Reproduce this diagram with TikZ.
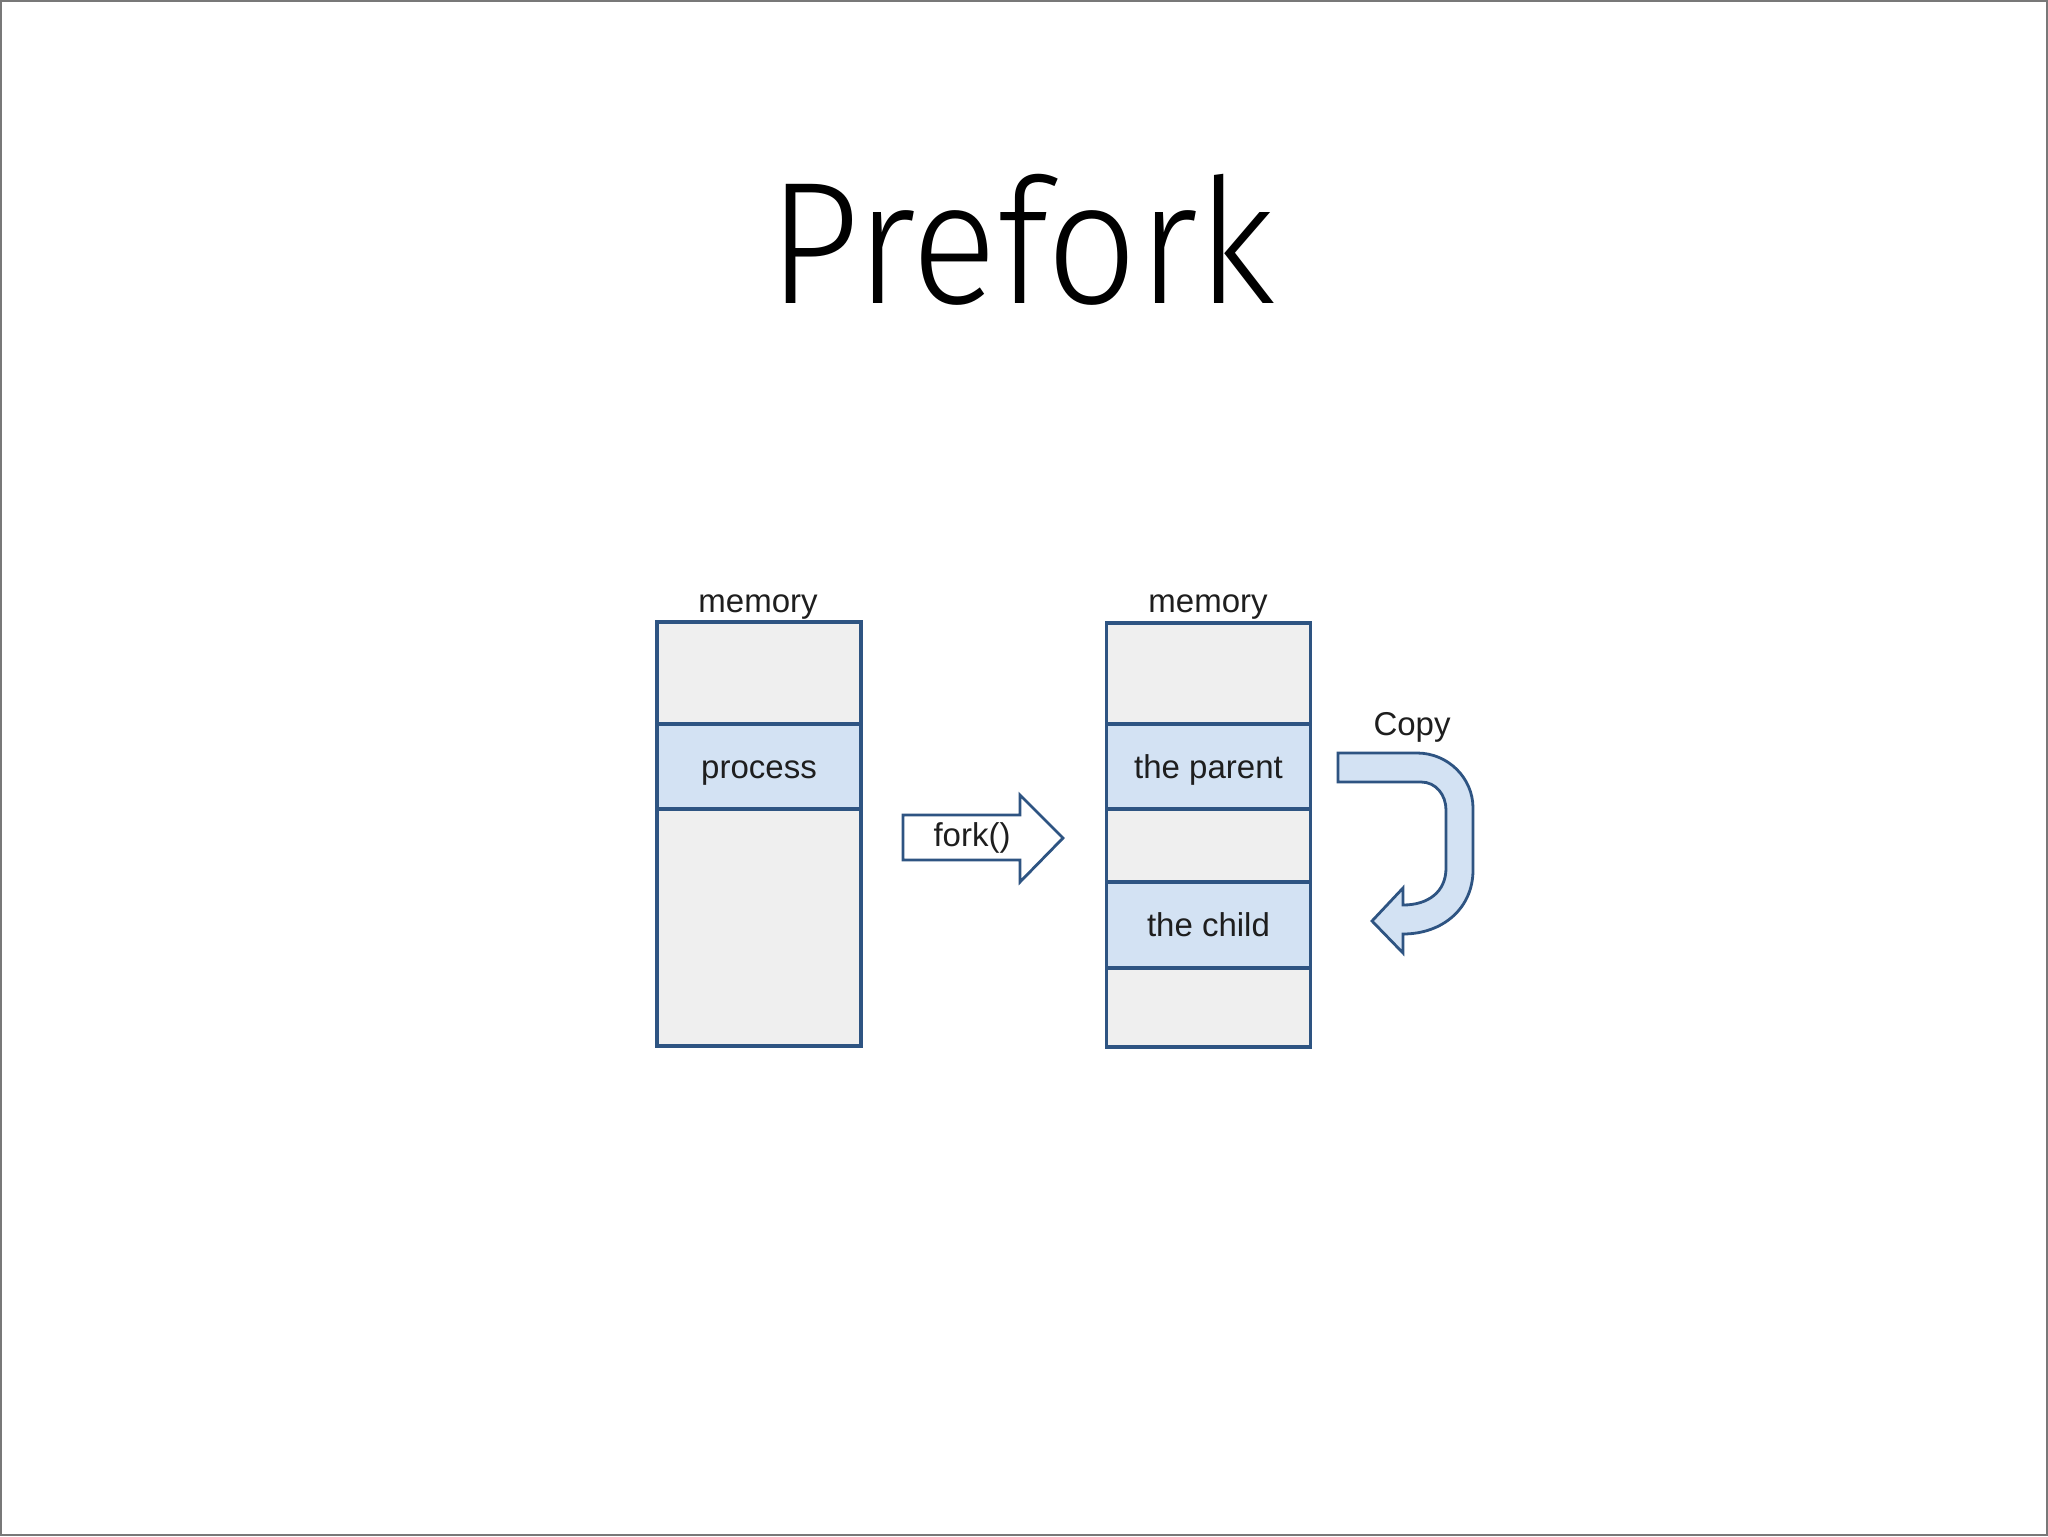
\documentclass[tikz,border=0pt]{standalone}
\usepackage{graphicx}
\usepackage{fontspec}
\setmainfont{Liberation Sans}
\newfontfamily\titlefont{Fira Sans Light}
\definecolor{edgeblue}{RGB}{46,84,130}
\definecolor{segblue}{RGB}{211,226,243}
\definecolor{colgray}{RGB}{239,239,239}
\definecolor{ink}{RGB}{30,30,30}
\definecolor{framegray}{RGB}{120,120,120}
\begin{document}
\begin{tikzpicture}[x=0.5pt,y=-0.5pt,
  memcol/.style={draw=edgeblue, fill=colgray, line width=1.75pt, inner sep=0pt, outer sep=0pt, minimum width=102pt, minimum height=212pt},
  seg/.style={draw=edgeblue, fill=segblue, line width=1.75pt, inner sep=0pt, outer sep=0pt, minimum width=102pt, font=\fontsize{16.5}{16.5}\selectfont, text=ink, text height=11.9pt, text depth=0pt},
  lbl/.style={font=\fontsize{16.5}{16.5}\selectfont, text=ink, inner sep=0pt, anchor=base},
  blockarrow/.style={draw=edgeblue, line width=1.4pt, line join=miter}]
\useasboundingbox (0,0) rectangle (2048,1536);
\fill[white] (0,0) rectangle (2048,1536);
\draw[framegray, line width=1pt] (1,1) rectangle (2047,1535);
% title
\node[anchor=base, inner sep=0pt, font=\titlefont\fontsize{87}{87}\selectfont, text=black] (title) at (1022,303) {\scalebox{0.92}[1]{Prefork}};
% left memory
\node[memcol] (lcol) at (759,834) {};
\node[seg, minimum height=42.5pt] (proc) at (759,766.5) {process};
\node[lbl] (lmem) at (758,612) {memory};
% right memory
\node[memcol] (rcol) at (1208.5,835) {};
\node[seg, minimum height=42.5pt] (parent) at (1208.5,766.5) {the parent};
\node[seg, minimum height=43pt] (child) at (1208.5,925) {the child};
\node[lbl] (rmem) at (1208,612) {memory};
% fork arrow
\draw[blockarrow, fill=white] (903,815) -- (1020,815) -- (1020,795) -- (1063,838) -- (1020,882) -- (1020,860) -- (903,860) -- cycle;
\node[lbl] (forklbl) at (972,846) {fork()};
% copy arrow
\draw[blockarrow, fill=segblue] (1338,753) -- (1417,753)
  .. controls (1448,753) and (1473,778) .. (1473,808)
  -- (1473,870)
  .. controls (1473,908) and (1443,934) .. (1403,934)
  -- (1403,953) -- (1372,921) -- (1403,888) -- (1403,905)
  .. controls (1428,905) and (1446,892) .. (1446,868)
  -- (1446,810)
  .. controls (1446,795) and (1436,782) .. (1421,782)
  -- (1338,782) -- cycle;
\node[lbl] (copylbl) at (1412,735) {Copy};
\end{tikzpicture}
\end{document}
